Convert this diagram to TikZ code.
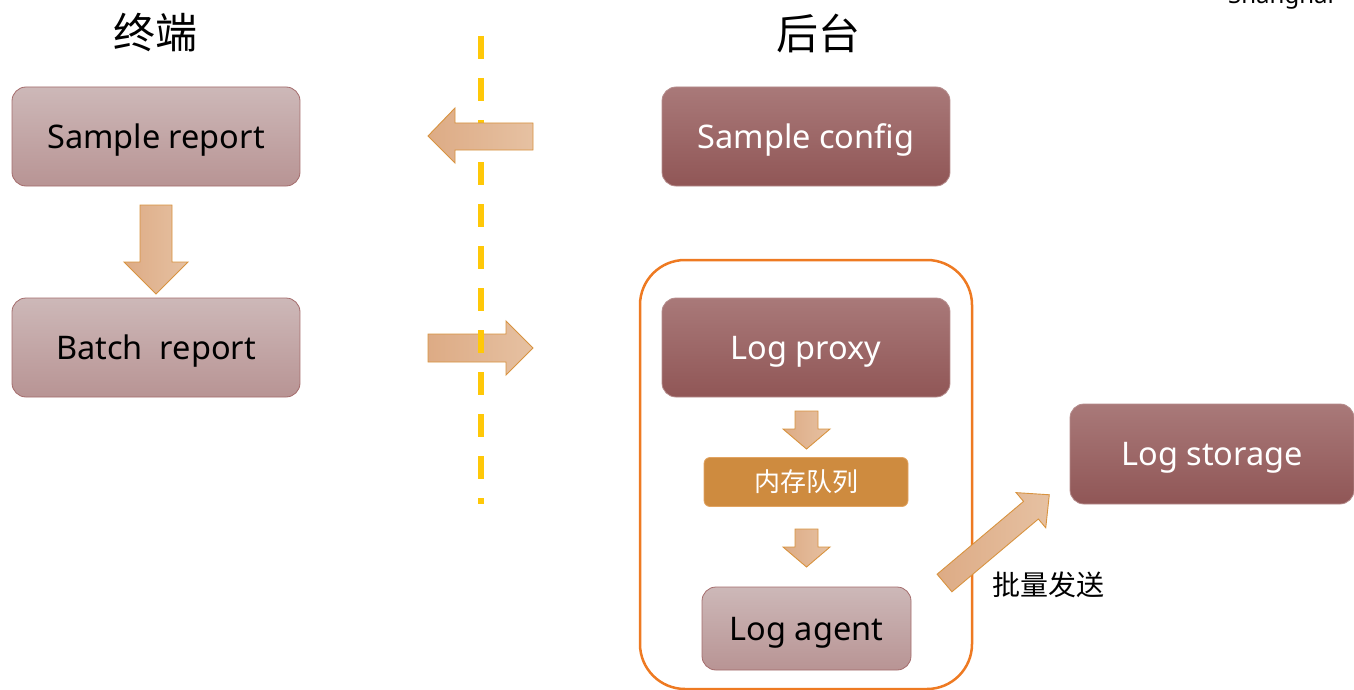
\documentclass[tikz,border=0pt]{standalone}
\usepackage{fontspec}
\setmainfont{Noto Sans}
\newfontfamily\cjk{Noto Sans CJK SC}
\definecolor{lighttop}{HTML}{CDB8B8}
\definecolor{lightbot}{HTML}{B89494}
\definecolor{lightedge}{HTML}{A46C6C}
\definecolor{darktop}{HTML}{A97979}
\definecolor{darkbot}{HTML}{905656}
\definecolor{darkedge}{HTML}{B58C8C}
\definecolor{queuefill}{HTML}{CE8B3F}
\definecolor{queueedge}{HTML}{E2A462}
\definecolor{frameorange}{HTML}{EE7A22}
\definecolor{arrowdark}{HTML}{DDAB85}
\definecolor{arrowlight}{HTML}{E6C1A2}
\definecolor{arrowedge}{HTML}{D8933F}
\definecolor{dividercol}{HTML}{FFC808}
\begin{document}
\begin{tikzpicture}[x=1pt,y=-1pt,
  boxtext/.style={font=\fontsize{32.5}{36}\selectfont, text height=23.5pt, text depth=0.5pt},
  lightbox/.style={rounded corners=14pt, draw=lightedge, line width=0.8pt,
    top color=lighttop, bottom color=lightbot, inner sep=0pt,
    minimum width=288pt, minimum height=99pt, boxtext, text=black},
  darkbox/.style={rounded corners=14pt, draw=darkedge, line width=0.8pt,
    top color=darktop, bottom color=darkbot, inner sep=0pt,
    minimum width=288pt, minimum height=99pt, boxtext, text=white},
  blockarrow/.style={draw=arrowedge, line width=0.9pt,
    left color=arrowdark, right color=arrowlight},
  title/.style={font=\cjk\fontsize{42}{46}\selectfont, text=black}]
\useasboundingbox (0,0) rectangle (1354,690);

% column titles and the caption running off the top edge
\node[title] (tterm) at (155,33) {终端};
\node[title] (tback) at (818,33) {后台};
\node[anchor=base, font=\fontsize{24}{26}\selectfont, text=black] (city) at (1281,4) {Shanghai};

% arrow from the terminal side to the back end (under the divider)
\path[blockarrow] (428,334) -- (506,334) -- (506,321) -- (533,348)
  -- (506,375) -- (506,362) -- (428,362) -- cycle;

% dashed divider
\coordinate (dtop) at (481,36);
\coordinate (dbot) at (481,504);
\draw[dividercol, line width=6pt, dash pattern=on 23pt off 19pt] (dtop) -- (dbot);

% arrow from the back end to the terminal side (over the divider)
\path[blockarrow] (533,123) -- (455,123) -- (455,108) -- (428,136)
  -- (455,163) -- (455,150) -- (533,150) -- cycle;

% terminal side
\node[lightbox] (srep) at (156,136.5) {Sample report};
\node[lightbox] (brep) at (156,347.5) {Batch\ \ report};
\path[blockarrow] (140,205) -- (172,205) -- (172,262) -- (188,262)
  -- (156,294) -- (124,262) -- (140,262) -- cycle;

% back end
\node[darkbox] (sconf) at (806,136.5) {Sample config};
\draw[frameorange, line width=2.5pt, rounded corners=45pt] (640,260) rectangle (972,689);
\node[darkbox] (proxy) at (806,347.5) {Log proxy};
\path[blockarrow] (795,411) -- (818,411) -- (818,429) -- (830,429)
  -- (806.5,449) -- (783,429) -- (795,429) -- cycle;
\node[rounded corners=6pt, draw=queueedge, line width=0.8pt, fill=queuefill,
  minimum width=204pt, minimum height=49pt, inner sep=0pt, text=white,
  font=\cjk\fontsize{26}{30}\selectfont] (queue) at (806,482) {内存队列};
\path[blockarrow] (795,529) -- (818,529) -- (818,547) -- (830,547)
  -- (806.5,567) -- (783,547) -- (795,547) -- cycle;
\node[lightbox, minimum width=209pt, minimum height=83pt] (agent) at (806.5,628.5) {Log agent};

% storage and the batched send
\node[darkbox, minimum width=284pt, minimum height=100pt] (store) at (1212,454) {Log storage};
\begin{scope}[shift={(944.5,583)}, rotate=40.1]
  \path[blockarrow] (0,-11.5) -- (113,-11.5) -- (113,-23) -- (137,0)
    -- (113,23) -- (113,11.5) -- (0,11.5) -- cycle;
\end{scope}
\node[font=\cjk\fontsize{28}{32}\selectfont, text=black] (send) at (1048,585) {批量发送};
\end{tikzpicture}
\end{document}
